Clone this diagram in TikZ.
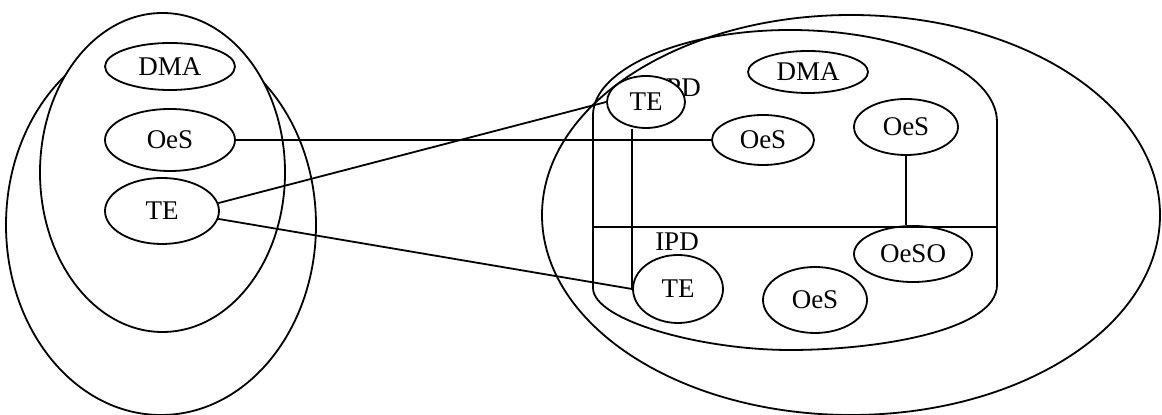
\documentclass[tikz,border=0pt]{standalone}
\usepackage{fontspec}
\setmainfont{Liberation Serif}
\usetikzlibrary{shapes.geometric}
\tikzset{
  every picture/.style={line width=0.9pt},
  blob/.style={draw, ellipse, fill=white, inner sep=0pt, font=\fontsize{13.5}{16}\selectfont},
  region/.style={draw, ellipse, fill=white, inner sep=0pt},
  tag/.style={inner sep=0pt, font=\fontsize{13.5}{16}\selectfont},
  link/.style={draw, line width=0.9pt},
}
\begin{document}
\begin{tikzpicture}[x=0.5pt, y=-0.5pt]
  \useasboundingbox (0,0) rectangle (1162,415);
  % left domain
  \node[region, minimum width=155pt, minimum height=190pt] (outerL) at (161,225) {};
  \node[region, minimum width=122.5pt, minimum height=159.5pt] (innerL) at (162.5,172.5) {};
  \node[blob, minimum width=65pt, minimum height=23.5pt] (dmaL) at (170,66.5) {DMA};
  \node[blob, minimum width=65pt, minimum height=31pt] (oesL) at (170,140) {OeS};
  \node[blob, minimum width=57pt, minimum height=33pt] (teL) at (162,211) {TE};
  % right domain
  \node[region, minimum width=309pt, minimum height=200pt] (outerR) at (851,215) {};
  \draw (593,227) -- (593,115) .. controls (593,70) and (680,30) .. (790,30)
    .. controls (900,30) and (997,70) .. (997,122) -- (997,285)
    .. controls (997,330) and (880,350) .. (790,350)
    .. controls (700,350) and (593,320) .. (593,288) -- cycle;
  \node[tag] (ipdTop) at (679,88) {IPD};
  \node[tag] (ipdBot) at (677,242) {IPD};
  \node[blob, minimum width=39pt, minimum height=26pt] (teTop) at (646,102) {TE};
  \node[blob, minimum width=60pt, minimum height=21pt] (dmaR) at (808,72) {DMA};
  \node[blob, minimum width=51pt, minimum height=25pt] (oesM) at (763,140) {OeS};
  \node[blob, minimum width=52pt, minimum height=28pt] (oesR) at (906,127) {OeS};
  \node[blob, minimum width=59pt, minimum height=28pt] (oesSO) at (913,254) {OeSO};
  \node[blob, minimum width=45pt, minimum height=34pt] (teBot) at (678,289) {TE};
  \node[blob, minimum width=52pt, minimum height=33pt] (oesBot) at (815,300) {OeS};
  \draw (593,227) -- (997,227);
  % links
  \draw[link] (oesL.east) -- (oesM.west);
  \draw[link] (teL.8) -- (teTop.west);
  \draw[link] (teL.-8) -- (teBot.west);
  \draw[link] (teBot.west) -- (teBot.west |- teTop.south);
  \draw[link] (oesR.south) -- (oesR.south |- oesSO.north);
\end{tikzpicture}
\end{document}
